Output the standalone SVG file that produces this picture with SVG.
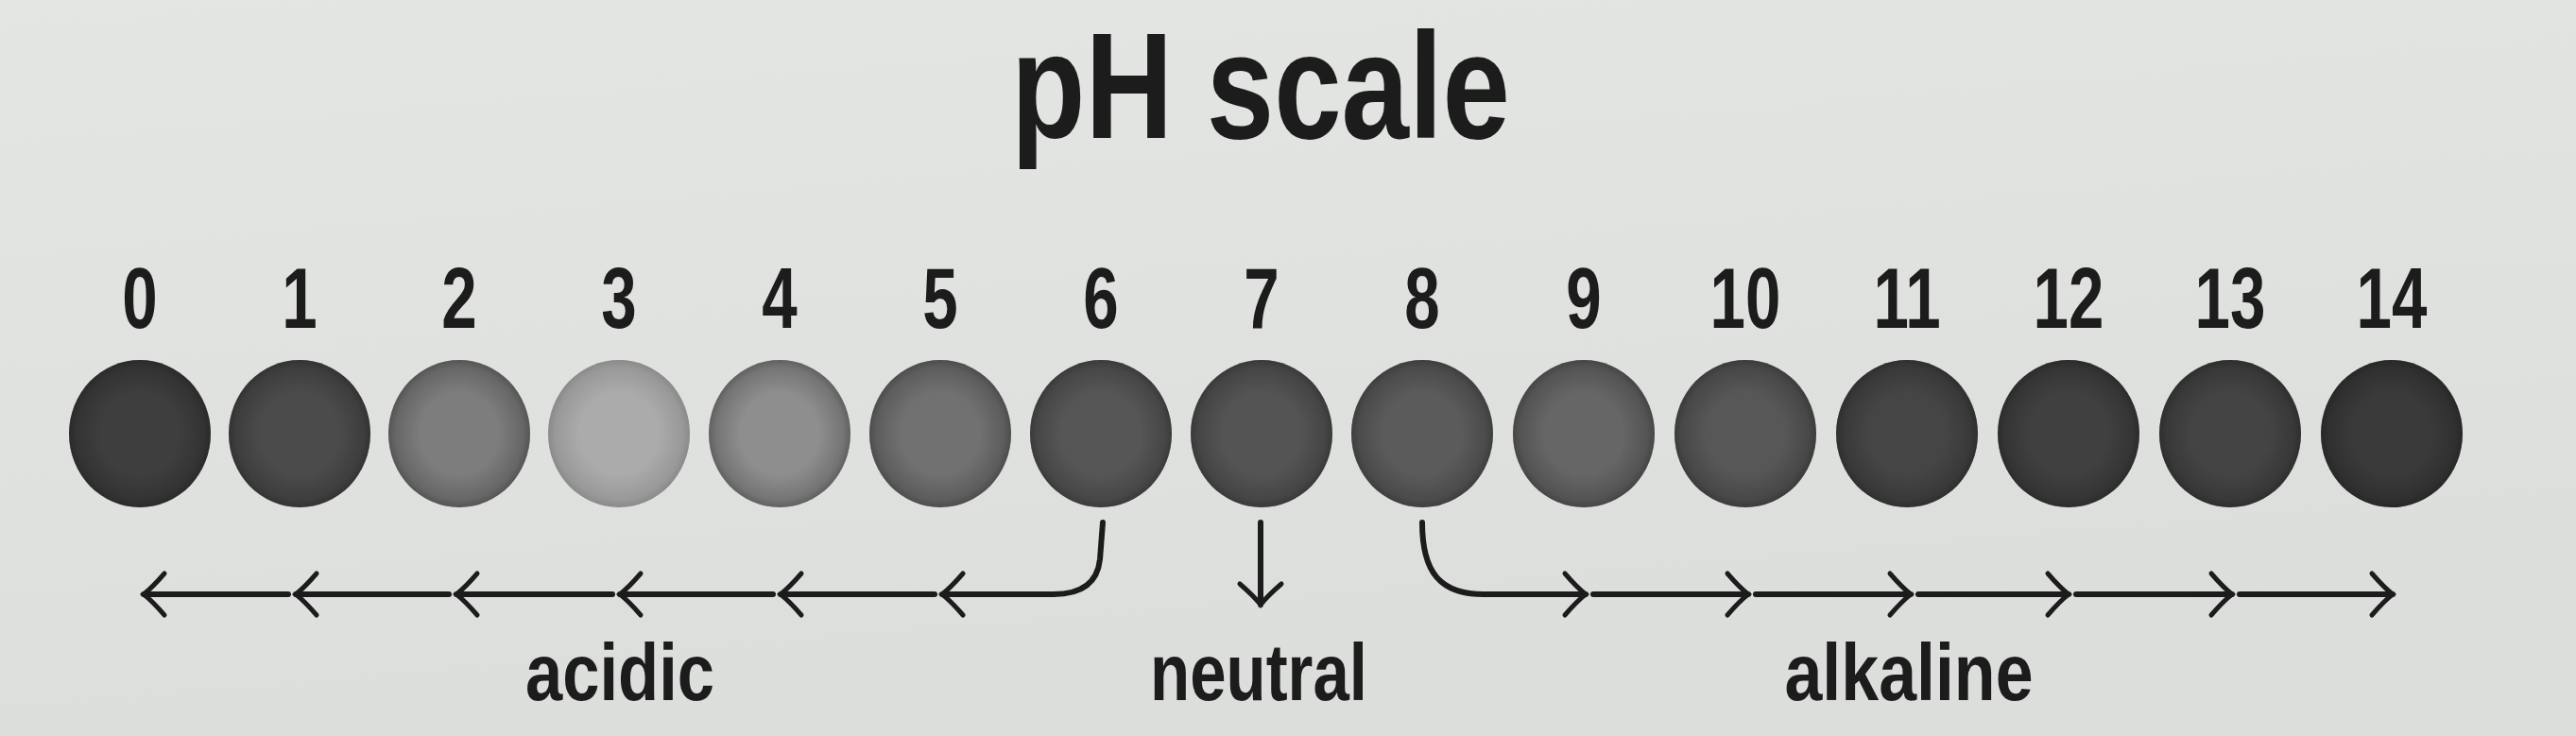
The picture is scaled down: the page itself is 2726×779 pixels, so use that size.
<svg xmlns="http://www.w3.org/2000/svg" width="2726" height="779" viewBox="0 0 2726 779">
<style>
.t{font-family:"Liberation Sans",Arial,sans-serif;font-weight:bold;fill:#1c1c1c}
.num{font-size:91px;text-anchor:middle}
.lab{font-size:86px;text-anchor:middle}
.dot{stroke:none}
.shade{fill:url(#rim)}
.con{fill:none;stroke:#1c1c1c;stroke-width:6;stroke-linecap:round;stroke-linejoin:round}
</style>
<defs>
<linearGradient id="paper" x1="0" y1="0" x2="0.3" y2="1">
<stop offset="0" stop-color="#e4e6e3"/>
<stop offset="1" stop-color="#dcdedb"/>
</linearGradient>
<radialGradient id="rim" cx="0.5" cy="0.5" r="0.5">
<stop offset="0.55" stop-color="#000" stop-opacity="0"/>
<stop offset="0.9" stop-color="#000" stop-opacity="0.18"/>
<stop offset="1" stop-color="#000" stop-opacity="0.32"/>
</radialGradient>
<marker id="chev" markerUnits="userSpaceOnUse" markerWidth="60" markerHeight="60" viewBox="-30 -30 60 60" refX="0" refY="0" orient="auto" overflow="visible">
<path d="M-22,-22 Q-9,-7 0,0 Q-9,7 -22,22" fill="none" stroke="#1c1c1c" stroke-width="5" stroke-linecap="round"/>
</marker>
</defs>
<rect width="2726" height="779" fill="url(#paper)"/>

<g id="title"><text class="t" x="1334" y="146" font-size="160" text-anchor="middle" textLength="528" lengthAdjust="spacingAndGlyphs">pH scale</text></g>

<g id="node-0"><text class="t num" transform="translate(148 347) scale(0.74 1)">0</text><ellipse class="dot" cx="148" cy="459" rx="75" ry="78" fill="#3e3e3e"/><ellipse class="shade" cx="148" cy="459" rx="75" ry="78"/></g>
<g id="node-1"><text class="t num" transform="translate(317 347) scale(0.74 1)">1</text><ellipse class="dot" cx="317" cy="459" rx="75" ry="78" fill="#4b4b4b"/><ellipse class="shade" cx="317" cy="459" rx="75" ry="78"/></g>
<g id="node-2"><text class="t num" transform="translate(486 347) scale(0.74 1)">2</text><ellipse class="dot" cx="486" cy="459" rx="75" ry="78" fill="#7d7d7d"/><ellipse class="shade" cx="486" cy="459" rx="75" ry="78"/></g>
<g id="node-3"><text class="t num" transform="translate(655 347) scale(0.74 1)">3</text><ellipse class="dot" cx="655" cy="459" rx="75" ry="78" fill="#ababab"/><ellipse class="shade" cx="655" cy="459" rx="75" ry="78" opacity="0.6"/></g>
<g id="node-4"><text class="t num" transform="translate(825 347) scale(0.74 1)">4</text><ellipse class="dot" cx="825" cy="459" rx="75" ry="78" fill="#8e8e8e"/><ellipse class="shade" cx="825" cy="459" rx="75" ry="78"/></g>
<g id="node-5"><text class="t num" transform="translate(995 347) scale(0.74 1)">5</text><ellipse class="dot" cx="995" cy="459" rx="75" ry="78" fill="#717171"/><ellipse class="shade" cx="995" cy="459" rx="75" ry="78"/></g>
<g id="node-6"><text class="t num" transform="translate(1165 347) scale(0.74 1)">6</text><ellipse class="dot" cx="1165" cy="459" rx="75" ry="78" fill="#565656"/><ellipse class="shade" cx="1165" cy="459" rx="75" ry="78"/></g>
<g id="node-7"><text class="t num" transform="translate(1335 347) scale(0.74 1)">7</text><ellipse class="dot" cx="1335" cy="459" rx="75" ry="78" fill="#545454"/><ellipse class="shade" cx="1335" cy="459" rx="75" ry="78"/></g>
<g id="node-8"><text class="t num" transform="translate(1505 347) scale(0.74 1)">8</text><ellipse class="dot" cx="1505" cy="459" rx="75" ry="78" fill="#5b5b5b"/><ellipse class="shade" cx="1505" cy="459" rx="75" ry="78"/></g>
<g id="node-9"><text class="t num" transform="translate(1676 347) scale(0.74 1)">9</text><ellipse class="dot" cx="1676" cy="459" rx="75" ry="78" fill="#666666"/><ellipse class="shade" cx="1676" cy="459" rx="75" ry="78"/></g>
<g id="node-10"><text class="t num" transform="translate(1847 347) scale(0.74 1)">10</text><ellipse class="dot" cx="1847" cy="459" rx="75" ry="78" fill="#575757"/><ellipse class="shade" cx="1847" cy="459" rx="75" ry="78"/></g>
<g id="node-11"><text class="t num" transform="translate(2018 347) scale(0.74 1)">11</text><ellipse class="dot" cx="2018" cy="459" rx="75" ry="78" fill="#454545"/><ellipse class="shade" cx="2018" cy="459" rx="75" ry="78"/></g>
<g id="node-12"><text class="t num" transform="translate(2189 347) scale(0.74 1)">12</text><ellipse class="dot" cx="2189" cy="459" rx="75" ry="78" fill="#404040"/><ellipse class="shade" cx="2189" cy="459" rx="75" ry="78"/></g>
<g id="node-13"><text class="t num" transform="translate(2360 347) scale(0.74 1)">13</text><ellipse class="dot" cx="2360" cy="459" rx="75" ry="78" fill="#444444"/><ellipse class="shade" cx="2360" cy="459" rx="75" ry="78"/></g>
<g id="node-14"><text class="t num" transform="translate(2531 347) scale(0.74 1)">14</text><ellipse class="dot" cx="2531" cy="459" rx="75" ry="78" fill="#3a3a3a"/><ellipse class="shade" cx="2531" cy="459" rx="75" ry="78"/></g>

<g id="connectors">
<path class="con" d="M1167,553 L1164,592 Q1160,629 1115,629 L997,629" marker-end="url(#chev)"/>
<path class="con" d="M989,629 L826,629" marker-end="url(#chev)"/>
<path class="con" d="M818,629 L656,629" marker-end="url(#chev)"/>
<path class="con" d="M648,629 L483,629" marker-end="url(#chev)"/>
<path class="con" d="M475,629 L313,629" marker-end="url(#chev)"/>
<path class="con" d="M305,629 L152,629" marker-end="url(#chev)"/>
<path class="con" d="M1334,553 L1334,640" marker-end="url(#chev)"/>
<path class="con" d="M1505,553 C1505,606 1524,629 1570,629 L1678,629" marker-end="url(#chev)"/>
<path class="con" d="M1686,629 L1850,629" marker-end="url(#chev)"/>
<path class="con" d="M1858,629 L2022,629" marker-end="url(#chev)"/>
<path class="con" d="M2030,629 L2189,629" marker-end="url(#chev)"/>
<path class="con" d="M2197,629 L2362,629" marker-end="url(#chev)"/>
<path class="con" d="M2370,629 L2532,629" marker-end="url(#chev)"/>
</g>

<g id="label-acidic"><text class="t lab" x="656" y="741" textLength="200" lengthAdjust="spacingAndGlyphs">acidic</text></g>
<g id="label-neutral"><text class="t lab" x="1332" y="741" textLength="230" lengthAdjust="spacingAndGlyphs">neutral</text></g>
<g id="label-alkaline"><text class="t lab" x="2020" y="741" textLength="263" lengthAdjust="spacingAndGlyphs">alkaline</text></g>
</svg>
